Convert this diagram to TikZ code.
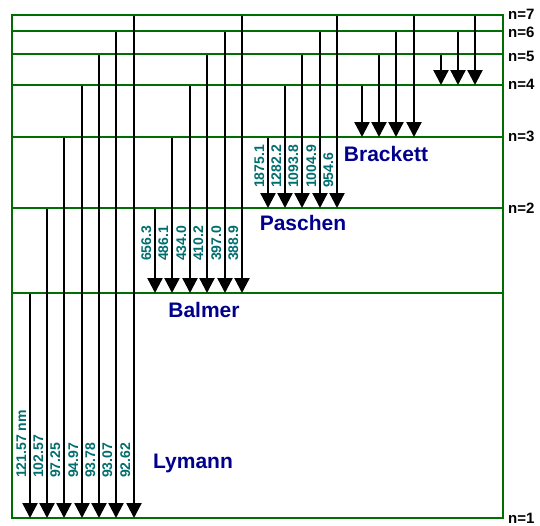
\documentclass[tikz,border=0pt]{standalone}
\usepackage{fontspec}
\setmainfont{Liberation Sans}
\usetikzlibrary{arrows.meta}
\definecolor{lvlgreen}{RGB}{0,110,0}
\definecolor{wavecol}{RGB}{0,110,110}
\definecolor{seriescol}{RGB}{0,0,140}
\tikzset{
  level/.style={draw=lvlgreen, line width=2.5pt},
  trans/.style={line width=2.3pt, black, -{Triangle[width=15pt,length=15pt]}},
  wave/.style={rotate=90, anchor=south west, inner sep=0pt, text=wavecol, font=\fontsize{14}{14}\selectfont\bfseries},
  series/.style={text=seriescol, inner sep=0pt, font=\fontsize{21}{21}\selectfont\bfseries},
  nlab/.style={anchor=west, inner sep=0pt, font=\fontsize{15}{15}\selectfont\bfseries}
}
\begin{document}
\begin{tikzpicture}[x=1pt,y=-1pt]
\useasboundingbox (0,0) rectangle (540,525);
% levels
\foreach \n/\y in {7/15,6/31,5/54,4/85,3/137,2/208,b/293,1/518}{
  \coordinate (lvl\n L) at (12,\y);
  \coordinate (lvl\n R) at (503,\y);
}
\draw[level] (lvl7L) rectangle (lvl1R);
\foreach \n in {6,5,4,3,2,b}{ \draw[level] (lvl\n L) -- (lvl\n R); }
% level labels
\foreach \n/\y in {7/14,6/32,5/56,4/84,3/136,2/208,1/518}{
  \node[nlab] (lab\n) at (508,\y) {n=\n};
}
% Lyman
\foreach \i/\x/\s/\t in {1/30/293/121.57 nm,2/47/208/102.57,3/64/137/97.25,4/82/85/94.97,5/99/54/93.78,6/116/31/93.07,7/134/15/92.62}{
  \coordinate (ly\i s) at (\x,\s+1);
  \coordinate (ly\i e) at (\x,518);
  \draw[trans] (ly\i s) -- (ly\i e);
  \node[wave] (lyl\i) at (\x-3.5,478) {\t};
}
% Balmer
\foreach \i/\x/\s/\t in {1/155/208/656.3,2/172/137/486.1,3/190/85/434.0,4/207/54/410.2,5/225/31/397.0,6/242/15/388.9}{
  \coordinate (ba\i s) at (\x,\s+1);
  \coordinate (ba\i e) at (\x,293);
  \draw[trans] (ba\i s) -- (ba\i e);
  \node[wave] (bal\i) at (\x-3.5,261) {\t};
}
% Paschen
\foreach \i/\x/\s/\t in {1/268/137/1875.1,2/285/85/1282.2,3/302/54/1093.8,4/320/31/1004.9,5/337/15/954.6}{
  \coordinate (pa\i s) at (\x,\s+1);
  \coordinate (pa\i e) at (\x,208);
  \draw[trans] (pa\i s) -- (pa\i e);
  \node[wave] (pal\i) at (\x-3.5,188) {\t};
}
% Brackett
\foreach \i/\x/\s in {1/362/85,2/379/54,3/396/31,4/414/15}{
  \coordinate (br\i s) at (\x,\s+1);
  \coordinate (br\i e) at (\x,137);
  \draw[trans] (br\i s) -- (br\i e);
}
% Pfund
\foreach \i/\x/\s in {1/441/54,2/458/31,3/475/15}{
  \coordinate (pf\i s) at (\x,\s+1);
  \coordinate (pf\i e) at (\x,85);
  \draw[trans] (pf\i s) -- (pf\i e);
}
% series names
\node[series] (brackett) at (386,154) {Brackett};
\node[series] (paschen) at (303,223) {Paschen};
\node[series] (balmer) at (204,310) {Balmer};
\node[series] (lymann) at (193,463) {Lymann};
\end{tikzpicture}
\end{document}
